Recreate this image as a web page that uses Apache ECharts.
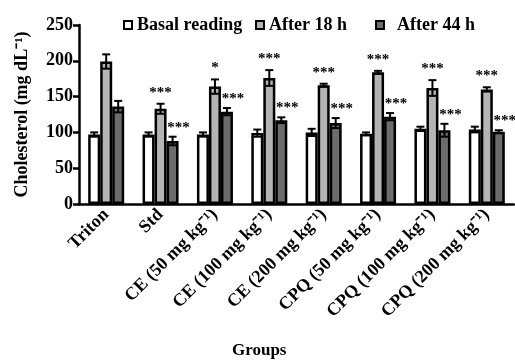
<!DOCTYPE html>
<html>
<head>
<meta charset="utf-8">
<script src="https://cdn.jsdelivr.net/npm/echarts@6/dist/echarts.min.js"></script>
<style>
  html, body { margin: 0; padding: 0; background: #fff; }
  #chart { width: 515px; height: 360px; }
</style>
</head>
<body>
<div id="chart"></div>
<script>
// data
const categories = ['Triton', 'Std', 'CE (50 mg kg⁻¹)', 'CE (100 mg kg⁻¹)', 'CE (200 mg kg⁻¹)',
  'CPQ (50 mg kg⁻¹)', 'CPQ (100 mg kg⁻¹)', 'CPQ (200 mg kg⁻¹)'];
const basal = [97, 97, 97, 99, 100, 98, 105, 104];
const basalErr = [3, 3, 3, 5, 5, 2, 3, 4];
const h18 = [199, 133, 164, 176, 166, 184, 162, 160];
const h18Err = [10, 7, 10, 11, 2, 2, 11, 3];
const h44 = [136, 88, 129, 117, 113, 122, 103, 101];
const h44Err = [8, 6, 5, 4, 7, 5, 9, 2];
const sig18 = ['', '***', '*', '***', '***', '***', '***', '***'];
const sig44 = ['', '***', '***', '***', '***', '***', '***', '***'];
const seriesNames = ['Basal reading', 'After 18 h', 'After 44 h'];

const FONT = '"Liberation Serif", "Times New Roman", serif';
const BW = 12; // bar width in px

const chart = echarts.init(document.getElementById('chart'));

// error bars + significance marks, drawn on top of the bars
function errSeries(vals, errs, sigs, offset, sigDx, sigUp) {
  return {
    type: 'custom',
    z: 5,
    silent: true,
    encode: { x: 0, y: 1 },
    data: vals.map((v, i) => [i, v, errs[i]]),
    renderItem: (params, api) => {
      const i = api.value(0), v = api.value(1), e = api.value(2);
      const top = api.coord([i, v + e]);
      const bot = api.coord([i, v - e]);
      const x = top[0] + offset;
      const cap = 4;
      const st = { stroke: '#000', lineWidth: 2 };
      const children = [
        { type: 'line', shape: { x1: x, y1: top[1], x2: x, y2: bot[1] }, style: st },
        { type: 'line', shape: { x1: x - cap, y1: top[1], x2: x + cap, y2: top[1] }, style: st },
        { type: 'line', shape: { x1: x - cap, y1: bot[1], x2: x + cap, y2: bot[1] }, style: st }
      ];
      const s = sigs[params.dataIndex];
      if (s) {
        children.push({
          type: 'text',
          style: {
            text: s, x: x + sigDx, y: top[1] - sigUp,
            align: 'center', verticalAlign: 'middle',
            fill: '#000', font: 'bold 15px ' + FONT
          }
        });
      }
      return { type: 'group', children };
    }
  };
}

// one legend per item so each can sit where it does in the figure
const legendLeft = [118, 250, 370];
const legends = seriesNames.map((n, k) => ({
  data: [n],
  left: legendLeft[k], top: 11,
  itemWidth: 8, itemHeight: 8,
  icon: 'rect',
  textStyle: { fontFamily: FONT, fontSize: 18, fontWeight: 'bold', color: '#000', padding: [0, 0, 0, k === 2 ? 8 : 0] }
}));

chart.setOption({
  animation: false,
  textStyle: { fontFamily: FONT },
  grid: { left: 79, right: 1, top: 25, bottom: 156 },
  legend: legends,
  xAxis: {
    type: 'category',
    data: categories,
    axisLine: { lineStyle: { color: '#000', width: 2.5 } },
    axisTick: { length: 8, lineStyle: { color: '#000', width: 2.5 } },
    axisLabel: {
      rotate: 45, margin: 8, interval: 0,
      fontFamily: FONT, fontSize: 18, fontWeight: 'bold', color: '#000'
    }
  },
  yAxis: {
    type: 'value',
    min: 0, max: 250, interval: 50,
    name: 'Cholesterol (mg dL⁻¹)',
    nameLocation: 'middle', nameGap: 48, nameRotate: 90,
    nameTextStyle: { fontFamily: FONT, fontSize: 18, fontWeight: 'bold', color: '#000' },
    splitLine: { show: false },
    axisLine: { show: true, lineStyle: { color: '#000', width: 2.5 } },
    axisTick: { show: true, length: 6, lineStyle: { color: '#000', width: 2.5 } },
    axisLabel: { margin: 6, fontFamily: FONT, fontSize: 18, fontWeight: 'bold', color: '#000' }
  },
  graphic: [{
    type: 'text', left: 232, top: 342,
    style: { text: 'Groups', font: 'bold 17px ' + FONT, fill: '#000' }
  }],
  series: [
    {
      name: seriesNames[0], type: 'bar', data: basal, barWidth: BW, barGap: '0%',
      itemStyle: { color: '#ffffff', borderColor: '#000', borderWidth: 2.5 }
    },
    {
      name: seriesNames[1], type: 'bar', data: h18, barWidth: BW, barGap: '0%',
      itemStyle: { color: '#b4b4b4', borderColor: '#000', borderWidth: 2.5 }
    },
    {
      name: seriesNames[2], type: 'bar', data: h44, barWidth: BW, barGap: '0%',
      itemStyle: { color: '#6c6c6c', borderColor: '#000', borderWidth: 2.5 }
    },
    errSeries(basal, basalErr, basal.map(() => ''), -BW, 0, 0),
    errSeries(h18, h18Err, sig18, 0, 0, 11),
    errSeries(h44, h44Err, sig44, BW, 6, 9)
  ]
});

window.addEventListener('resize', () => { chart.resize(); });
</script>
</body>
</html>
